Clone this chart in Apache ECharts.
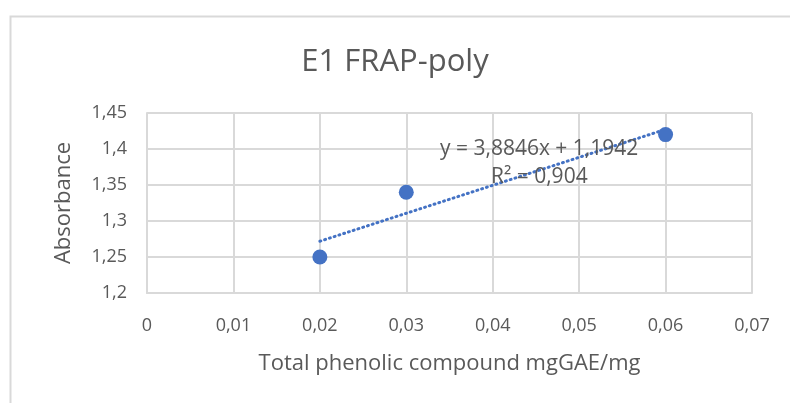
<!DOCTYPE html>
<html>
<head>
    <meta charset='utf-8' />
    <title>E1 FRAP-poly</title>
    <script src="https://cdn.jsdelivr.net/npm/echarts@6/dist/echarts.min.js"></script>
</head>
<body style='margin:0;width:790px;height:403px;background:#fff;'>
<div id='chart' style='width:790px;height:403px;'></div>

<script type='text/javascript'>
    // data
    var xValues = [0.02, 0.03, 0.06];
    var yValues = [1.25, 1.34, 1.42];
    // trend line as printed on the chart
    var slope = 3.8846;
    var intercept = 1.1942;
    var rSquared = '0,904';

    var fmt = function (v) { return String(+v.toFixed(2)).replace('.', ','); };

    var points = xValues.map(function (x, i) { return [x, yValues[i]]; });
    var xMin = Math.min.apply(null, xValues), xMax = Math.max.apply(null, xValues);
    var trend = [[xMin, slope * xMin + intercept], [xMax, slope * xMax + intercept]];

    var gray = '#595959';
    var font = 'Open Sans, Noto Sans, sans-serif';

    var myChart = echarts.init(document.getElementById('chart'));
    var option = {
        animation: false,
        title: {
            text: 'E1 FRAP-poly',
            left: 'center',
            top: 42,
            textStyle: { color: gray, fontSize: 31, fontWeight: 'normal', fontFamily: font }
        },
        grid: { left: 147, right: 38, top: 113, bottom: 110 },
        xAxis: {
            type: 'value',
            min: 0, max: 0.07, interval: 0.01,
            name: 'Total phenolic compound mgGAE/mg',
            nameLocation: 'middle',
            nameGap: 60,
            nameTextStyle: { color: gray, fontSize: 22, fontFamily: font },
            axisLine: { show: true, lineStyle: { color: '#d9d9d9', width: 2 } },
            axisTick: { show: false },
            splitLine: { show: true, lineStyle: { color: '#d9d9d9', width: 2 } },
            axisLabel: { color: gray, fontSize: 18, fontFamily: font, margin: 24, formatter: fmt }
        },
        yAxis: {
            type: 'value',
            min: 1.2, max: 1.45, interval: 0.05,
            name: 'Absorbance',
            nameLocation: 'middle',
            nameGap: 72,
            nameTextStyle: { color: gray, fontSize: 22, fontFamily: font },
            axisLine: { show: true, lineStyle: { color: '#d9d9d9', width: 2 } },
            axisTick: { show: false },
            splitLine: { show: true, lineStyle: { color: '#d9d9d9', width: 2 } },
            axisLabel: { color: gray, fontSize: 18, fontFamily: font, margin: 20, formatter: fmt }
        },
        graphic: [
            {
                type: 'rect', left: 8, top: 14, silent: true,
                shape: { width: 800, height: 400 },
                style: { fill: 'none', stroke: '#d9d9d9', lineWidth: 2 }
            },
            {
                type: 'text', left: 440, top: 139, z: 10,
                style: { text: 'y = ' + String(slope).replace('.', ',') + 'x + ' + String(intercept).replace('.', ','),
                    fill: gray, fontSize: 21, fontFamily: font }
            },
            {
                type: 'text', left: 491, top: 167, z: 10,
                style: { text: 'R² = ' + rSquared, fill: gray, fontSize: 21, fontFamily: font }
            }
        ],
        series: [
            {
                type: 'line',
                data: trend,
                symbol: 'none',
                lineStyle: { color: '#4472C4', width: 3, type: [1, 4], cap: 'round' },
                z: 2
            },
            {
                type: 'scatter',
                data: points,
                symbolSize: 15,
                itemStyle: { color: '#4472C4', opacity: 1 },
                z: 3
            }
        ]
    };
    myChart.setOption(option);
</script>
</body>
</html>
